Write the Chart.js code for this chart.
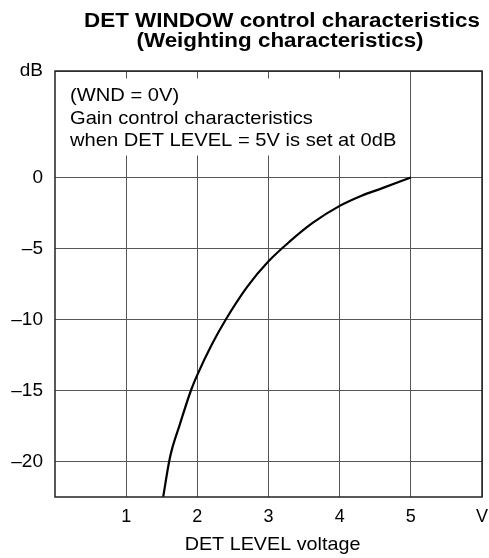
<!DOCTYPE html>
<html>
<head>
<meta charset="utf-8">
<script src="https://cdn.jsdelivr.net/npm/chart.js@4"></script>
<style>
  html, body { margin: 0; padding: 0; background: #fff; }
  #wrap { width: 489px; height: 558px; position: relative; }
</style>
</head>
<body>
<div id="wrap"><canvas id="chart"></canvas></div>
<script>
// DET LEVEL voltage (V) vs gain (dB)
const detVoltage = [1.52, 1.60, 1.64, 1.75, 1.91, 2.0, 2.2, 2.4, 2.7, 3.0, 3.3, 3.62, 4.0, 4.3, 4.6, 5.0];
const gainDb     = [-22.5, -20.1, -19.2, -17.45, -15, -13.9, -11.8, -10, -7.7, -5.9, -4.5, -3.2, -2.0, -1.3, -0.75, 0];

const xTickValues = [1, 2, 3, 4, 5, 6];
const xTickLabels = ['1', '2', '3', '4', '5', 'V'];
const yTickValues = [-20, -15, -10, -5, 0, 7.5];
const yTickLabels = ['\u201320', '\u201315', '\u201310', '\u20135', '0', 'dB'];

const titleLines = ['DET WINDOW control characteristics', '(Weighting characteristics)'];
const noteLines = ['(WND = 0V)', 'Gain control characteristics', 'when DET LEVEL = 5V is set at 0dB'];
const xAxisTitle = 'DET LEVEL voltage';

const FONT = '"Liberation Sans", Arial, sans-serif';

// draw text stretched horizontally like the scanned original
function wideText(ctx, text, x, y, sx, align) {
    ctx.save();
    ctx.translate(x, y);
    ctx.scale(sx, 1);
    ctx.textAlign = align;
    ctx.textBaseline = 'alphabetic';
    ctx.fillText(text, 0, 0);
    ctx.restore();
}

const decorPlugin = {
    id: 'decor',
    beforeDatasetsDraw(chart) {
        // white background behind the note, covering the grid
        const { ctx, chartArea: a, scales } = chart;
        const right = scales.x.getPixelForValue(4.88);
        ctx.save();
        ctx.fillStyle = '#fff';
        ctx.fillRect(a.left + 4, a.top + 7.5, right - a.left - 4, 77);
        ctx.restore();
    },
    afterDraw(chart) {
        const { ctx, chartArea: a } = chart;
        ctx.save();

        // frame
        ctx.strokeStyle = '#222';
        ctx.lineWidth = 1.5;
        ctx.strokeRect(a.left, a.top, a.right - a.left, a.bottom - a.top);

        ctx.fillStyle = '#000';
        // title
        ctx.font = 'bold 20px ' + FONT;
        wideText(ctx, titleLines[0], 282, 27, 1.12, 'center');
        wideText(ctx, titleLines[1], 280, 47, 1.12, 'center');

        // note
        ctx.font = '19px ' + FONT;
        const nx = a.left + 15;
        wideText(ctx, noteLines[0], nx, a.top + 30, 1.06, 'left');
        wideText(ctx, noteLines[1], nx, a.top + 52.5, 1.06, 'left');
        wideText(ctx, noteLines[2], nx, a.top + 74.5, 1.06, 'left');

        // x axis title
        ctx.font = '19px ' + FONT;
        wideText(ctx, xAxisTitle, 272.5, 550, 1.04, 'center');

        ctx.restore();
    }
};

new Chart(document.getElementById('chart'), {
    type: 'scatter',
    data: {
        datasets: [{
            data: detVoltage.map((v, i) => ({ x: v, y: gainDb[i] })),
            showLine: true,
            borderColor: '#000',
            borderWidth: 2.2,
            pointRadius: 0,
            cubicInterpolationMode: 'monotone',
            fill: false
        }]
    },
    options: {
        responsive: true,
        maintainAspectRatio: false,
        animation: false,
        layout: { padding: { top: 71, right: 0, left: 0, bottom: 0 } },
        plugins: {
            legend: { display: false },
            tooltip: { enabled: false }
        },
        scales: {
            x: {
                type: 'linear',
                min: 0,
                max: 6,
                afterBuildTicks: (s) => { s.ticks = xTickValues.map(v => ({ value: v })); },
                afterFit: (s) => { s.height = 61; s.paddingRight = 7; },
                border: { display: false },
                grid: { color: '#555', lineWidth: 1, drawTicks: false },
                ticks: {
                    padding: 9,
                    color: '#000',
                    font: { family: FONT, size: 18 },
                    maxRotation: 0,
                    callback: (v) => xTickLabels[xTickValues.indexOf(v)]
                }
            },
            y: {
                type: 'linear',
                min: -22.5,
                max: 7.5,
                afterBuildTicks: (s) => { s.ticks = yTickValues.map(v => ({ value: v })); },
                afterFit: (s) => { s.width = 55; },
                border: { display: false },
                grid: { color: '#555', lineWidth: 1, drawTicks: false },
                ticks: {
                    padding: 12,
                    color: '#000',
                    font: { family: FONT, size: 19 },
                    callback: (v) => yTickLabels[yTickValues.indexOf(v)]
                }
            }
        }
    },
    plugins: [decorPlugin]
});
</script>
</body>
</html>
